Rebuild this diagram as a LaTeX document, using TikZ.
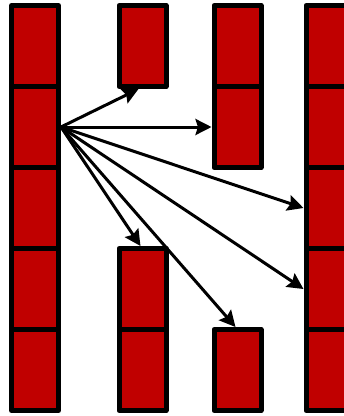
\documentclass[tikz,border=0pt]{standalone}
\usepackage{xcolor}
\usepackage{tikz}
\usetikzlibrary{arrows.meta}
\definecolor{cellred}{RGB}{192,0,0}

\begin{document}
\begin{tikzpicture}[x=1pt, y=-1pt,
    cell/.style={rectangle, draw, fill=cellred, line width=5pt, line join=round,
                 minimum width=47pt, minimum height=81pt, inner sep=0pt},
    arr/.style={-{Stealth[length=16pt, width=16pt, inset=2.5pt]}, line width=3pt},
]
\useasboundingbox (0,0) rectangle (344,416);
\clip (0,0) rectangle (344,416);

% full columns left and right
\foreach \r in {1,...,5} {
  \node[cell] (a\r) at (35,{-35+81*\r}) {};
  \node[cell] (d\r) at (329.5,{-35+81*\r}) {};
}
% partly filled columns
\node[cell] (b1) at (142.5,46) {};
\node[cell] (b4) at (142.5,289) {};
\node[cell] (b5) at (142.5,370) {};
\node[cell] (c1) at (237.5,46) {};
\node[cell] (c2) at (237.5,127) {};
\node[cell] (c5) at (237.5,370) {};

\draw[arr] (a2.east) -- ([xshift=-4pt]b1.south);
\draw[arr] (a2.east) -- (c2.west);
\draw[arr] (a2.east) -- (d3.west);
\draw[arr] (a2.east) -- (d4.west);
\draw[arr] (a2.east) -- ([xshift=-2pt]b4.north);
\draw[arr] (a2.east) -- ([xshift=-2pt]c5.north);
\end{tikzpicture}
\end{document}
